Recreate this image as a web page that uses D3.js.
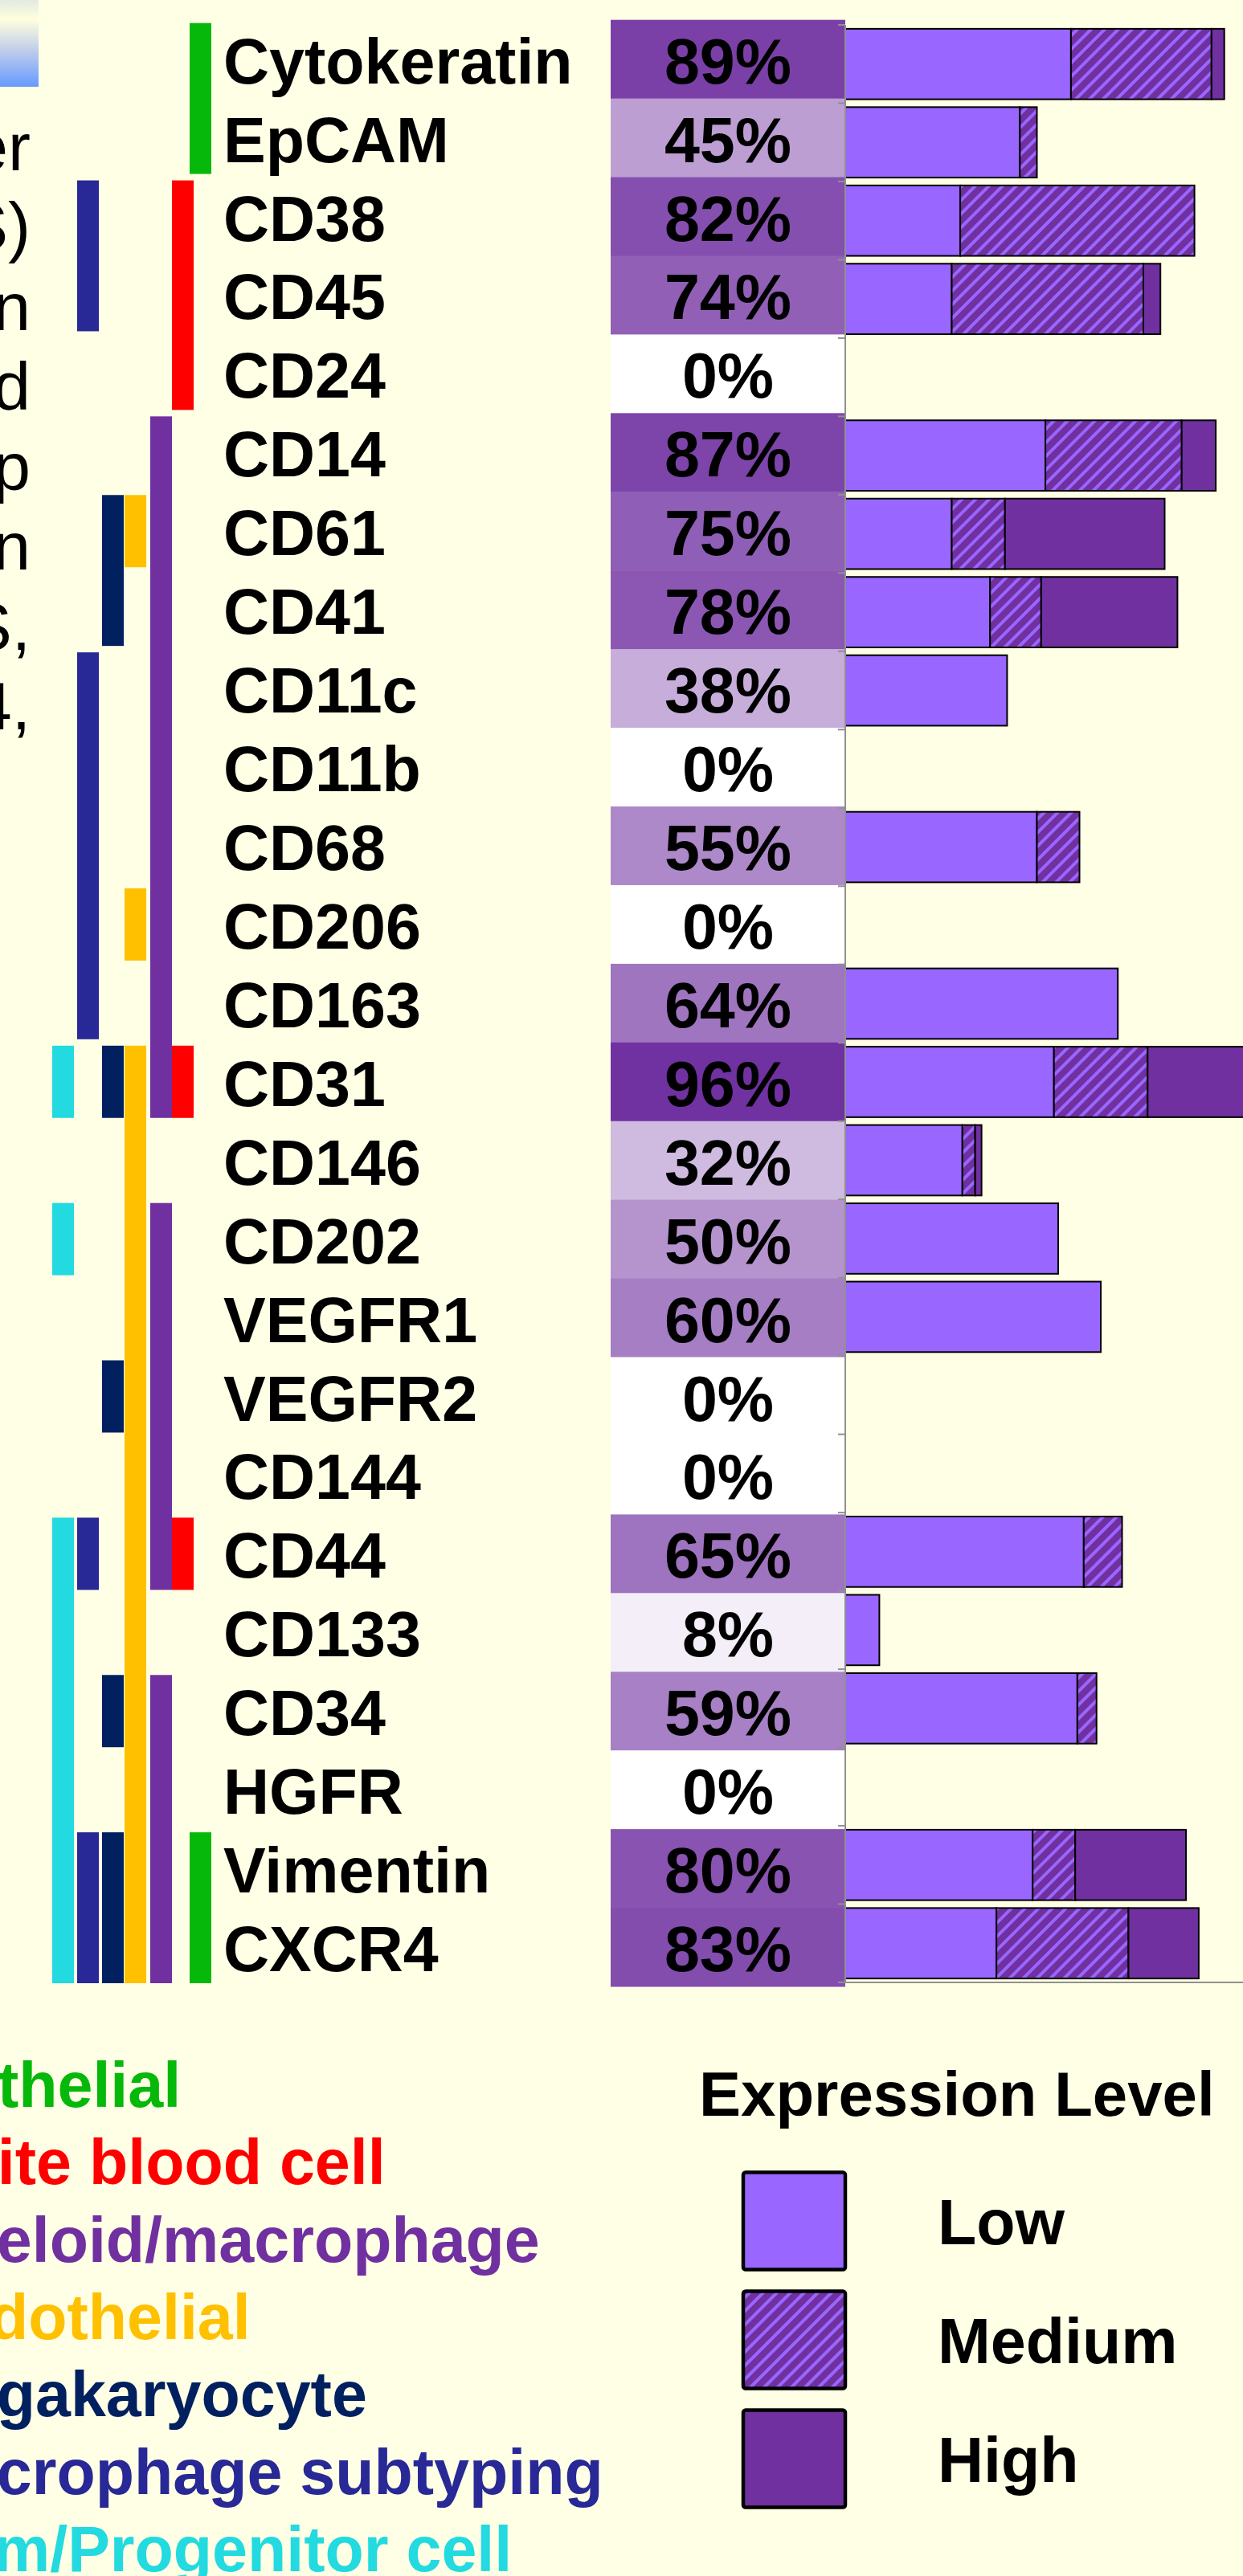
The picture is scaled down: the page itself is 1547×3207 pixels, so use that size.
<!DOCTYPE html>
<html>
<head>
<meta charset="utf-8">
<script src="https://cdn.jsdelivr.net/npm/d3@7"></script>
<style>
  html, body { margin: 0; padding: 0; background: #FFFFE6; overflow: hidden; }
  svg { display: block; }
  text { font-family: "Liberation Sans", Arial, Helvetica, sans-serif; }
</style>
</head>
<body>
<div id="chart"></div>
<script>
// ---------------- DATA ----------------
const markers = ["Cytokeratin","EpCAM","CD38","CD45","CD24","CD14","CD61","CD41","CD11c","CD11b",
  "CD68","CD206","CD163","CD31","CD146","CD202","VEGFR1","VEGFR2","CD144","CD44","CD133","CD34",
  "HGFR","Vimentin","CXCR4"];
const percentPositive = [89,45,82,74,0,87,75,78,38,0,55,0,64,96,32,50,60,0,0,65,8,59,0,80,83];
const levels = ["Low","Medium","High"];
const lowValues    = [53,41,27,25,0,47,25,34,38,0,45,0,64,49,27.5,50,60,0,0,56,8,54.5,0,44,35.5];
const mediumValues = [33, 4,55,45,0,32,12.5,12,0,0,10,0,0,22,3,0,0,0,0,9,0,4.5,0,10,31];
const highValues   = [ 3, 0, 0, 4,0, 8,37.5,32,0,0, 0,0,0,25,1.5,0,0,0,0,0,0,0,0,26,16.5];

const cellTypes = ["Epithelial","White blood cell","Myeloid/macrophage","Endothelial",
  "Megakaryocyte","Macrophage subtyping","Stem/Progenitor cell"];
// marker ranges (first, last) belonging to each cell type
const epithelialSpans   = [["Cytokeratin","EpCAM"],["Vimentin","CXCR4"]];
const whiteBloodSpans   = [["CD38","CD24"],["CD31","CD31"],["CD44","CD44"]];
const myeloidSpans      = [["CD14","CD31"],["CD202","CD44"],["CD34","CXCR4"]];
const endothelialSpans  = [["CD61","CD61"],["CD206","CD206"],["CD31","CXCR4"]];
const megakaryocyteSpans= [["CD61","CD41"],["CD31","CD31"],["VEGFR2","VEGFR2"],["CD34","CD34"],["Vimentin","CXCR4"]];
const subtypingSpans    = [["CD38","CD45"],["CD11c","CD163"],["CD44","CD44"],["Vimentin","CXCR4"]];
const stemSpans         = [["CD31","CD31"],["CD202","CD202"],["CD44","CXCR4"]];

// fragments of the side text (cut off by the left edge of the picture)
const sideTextLines = ["marker","(CAMLS)","in","and","up","in","CTCS,","CD14,"];

// ---------------- STYLE / LAYOUT ----------------
const W = 1547, H = 3207;
const BG = "#FFFFE6";
const FONT = "\"Liberation Sans\", Arial, Helvetica, sans-serif";
const levelColors = { Low: "#9966FF", High: "#7030A0" };
const cellTypeColors = ["#06B80A","#FF0000","#7030A0","#FFC000","#002060","#282896","#22DADF"];
const cellTypeColumnX = [236, 214, 187, 155, 127, 96, 65];
const legendTextX = [-126, -126, -114, -114, -114, -114, -131];
const columnWidth = 27;

const svg = d3.select("#chart").append("svg")
  .attr("width", W).attr("height", H)
  .attr("viewBox", `0 0 ${W} ${H}`);

const defs = svg.append("defs");
const grad = defs.append("linearGradient").attr("id","cornerGrad")
  .attr("x1",0).attr("y1",0).attr("x2",0).attr("y2",1);
[["0%","#E2E9E0"],["22%","#FFFFDE"],["55%","#C6D1EA"],["100%","#6699FF"]]
  .forEach(([o,c]) => grad.append("stop").attr("offset",o).attr("stop-color",c));

const hatch = defs.append("pattern").attr("id","hatch")
  .attr("patternUnits","userSpaceOnUse").attr("width",12).attr("height",12)
  .attr("patternTransform","rotate(45)");
hatch.append("rect").attr("width",12).attr("height",12).attr("fill","#7030A0");
hatch.append("rect").attr("x",0).attr("width",4).attr("height",12).attr("fill","#9966FF");

svg.append("rect").attr("width",W).attr("height",H).attr("fill",BG);

// corner gradient box
svg.append("rect").attr("x",0).attr("y",0).attr("width",48).attr("height",108)
  .attr("fill","url(#cornerGrad)");

// side text (right aligned, cut off on the left)
const sideY = d3.scalePoint().domain(d3.range(sideTextLines.length)).range([212, 908]);
svg.append("g").selectAll("text").data(sideTextLines).join("text")
  .attr("x", 38).attr("y", (d,i) => sideY(i))
  .attr("text-anchor","end")
  .attr("font-size", 84).attr("fill","#000")
  .style("font-family", FONT)
  .text(d => d);

// ---------------- SCALES ----------------
const rowY = d3.scaleBand().domain(markers).range([24.7, 2473]);
const barY = d3.scaleBand().domain(markers).range([31, 2468]).paddingInner(0.1).paddingOuter(0.05);
const x = d3.scaleLinear().domain([0, 100]).range([1052, 1582]);
const boxX0 = 760, boxX1 = 1052;
const pctColor = d3.scaleLinear().domain([0,100]).range(["#ffffff","#6A289D"]).interpolate(d3.interpolateRgb);

// ---------------- CELL TYPE COLUMNS ----------------
const allSpans = [epithelialSpans, whiteBloodSpans, myeloidSpans, endothelialSpans,
  megakaryocyteSpans, subtypingSpans, stemSpans];
const spanRects = [];
allSpans.forEach((spans, ci) => spans.forEach(([a,b]) => spanRects.push({ci, a, b})));
svg.append("g").selectAll("rect").data(spanRects).join("rect")
  .attr("x", d => cellTypeColumnX[d.ci])
  .attr("width", columnWidth)
  .attr("y", d => rowY(d.a) + 4)
  .attr("height", d => rowY(d.b) + rowY.step() - 4 - (rowY(d.a) + 4))
  .attr("fill", d => cellTypeColors[d.ci]);

// ---------------- MARKER LABELS ----------------
svg.append("g").selectAll("text").data(markers).join("text")
  .attr("x", 278)
  .attr("y", d => rowY(d) + rowY.bandwidth()/2 + 30)
  .attr("font-size", 79).attr("font-weight","bold").attr("fill","#000")
  .style("font-family", FONT)
  .text(d => d);

// ---------------- PERCENT BOXES ----------------
const pctData = markers.map((m,i) => ({marker: m, pct: percentPositive[i]}));
svg.append("g").selectAll("rect").data(pctData).join("rect")
  .attr("x", boxX0).attr("width", boxX1 - boxX0)
  .attr("y", d => rowY(d.marker)).attr("height", rowY.bandwidth() + 0.5)
  .attr("fill", d => pctColor(d.pct));
svg.append("g").selectAll("text").data(pctData).join("text")
  .attr("x", (boxX0 + boxX1)/2)
  .attr("y", d => rowY(d.marker) + rowY.bandwidth()/2 + 30)
  .attr("text-anchor","middle")
  .attr("font-size", 79).attr("font-weight","bold").attr("fill","#000")
  .style("font-family", FONT)
  .text(d => d.pct + "%");

// ---------------- STACKED BARS ----------------
const barRows = markers.map((m,i) => ({marker: m, Low: lowValues[i], Medium: mediumValues[i], High: highValues[i]}));
const series = d3.stack().keys(levels)(barRows);
const segs = [];
series.forEach(s => s.forEach(p => {
  if (p[1] - p[0] > 0) segs.push({level: s.key, marker: p.data.marker, x0: p[0], x1: p[1]});
}));
svg.append("g").selectAll("rect").data(segs).join("rect")
  .attr("x", d => x(d.x0))
  .attr("width", d => x(d.x1) - x(d.x0))
  .attr("y", d => barY(d.marker))
  .attr("height", barY.bandwidth())
  .attr("fill", d => d.level === "Medium" ? "url(#hatch)" : levelColors[d.level])
  .attr("stroke", "#000").attr("stroke-width", 2);

// ---------------- AXES ----------------
const axisG = svg.append("g").attr("stroke","#909090").attr("stroke-width",2);
const y0 = barY.range()[0], y1 = barY.range()[1];
axisG.append("line").attr("x1", x(0)).attr("x2", x(0)).attr("y1", y0).attr("y2", y1);
axisG.append("line").attr("x1", x(0)).attr("x2", W).attr("y1", y1).attr("y2", y1);
axisG.selectAll("line.tick").data(d3.range(markers.length + 1)).join("line")
  .attr("class","tick")
  .attr("x1", x(0) - 9).attr("x2", x(0))
  .attr("y1", k => y0 + k * barY.step()).attr("y2", k => y0 + k * barY.step());

// ---------------- CELL TYPE LEGEND (cut off on left) ----------------
const legY = d3.scalePoint().domain(cellTypes).range([2623, 3201]);
svg.append("g").selectAll("text").data(cellTypes).join("text")
  .attr("x", (d,i) => legendTextX[i])
  .attr("y", d => legY(d))
  .attr("font-size", 79).attr("font-weight","bold")
  .attr("fill", (d,i) => cellTypeColors[i])
  .style("font-family", FONT)
  .text(d => d);

// ---------------- EXPRESSION LEVEL LEGEND ----------------
svg.append("text").attr("x", 870).attr("y", 2634)
  .attr("font-size", 78).attr("font-weight","bold").attr("fill","#000")
  .style("font-family", FONT)
  .text("Expression Level");
const lvlY = d3.scalePoint().domain(levels).range([2765, 3061]);
const lg = svg.append("g").selectAll("g").data(levels).join("g");
lg.append("rect")
  .attr("x", 925).attr("width", 127)
  .attr("y", d => lvlY(d) - 60.5).attr("height", 121)
  .attr("rx", 3)
  .attr("fill", d => d === "Medium" ? "url(#hatch)" : levelColors[d])
  .attr("stroke","#000").attr("stroke-width", 4.5);
lg.append("text")
  .attr("x", 1167).attr("y", d => lvlY(d) + 29)
  .attr("font-size", 79).attr("font-weight","bold").attr("fill","#000")
  .style("font-family", FONT)
  .text(d => d);
</script>
</body>
</html>
